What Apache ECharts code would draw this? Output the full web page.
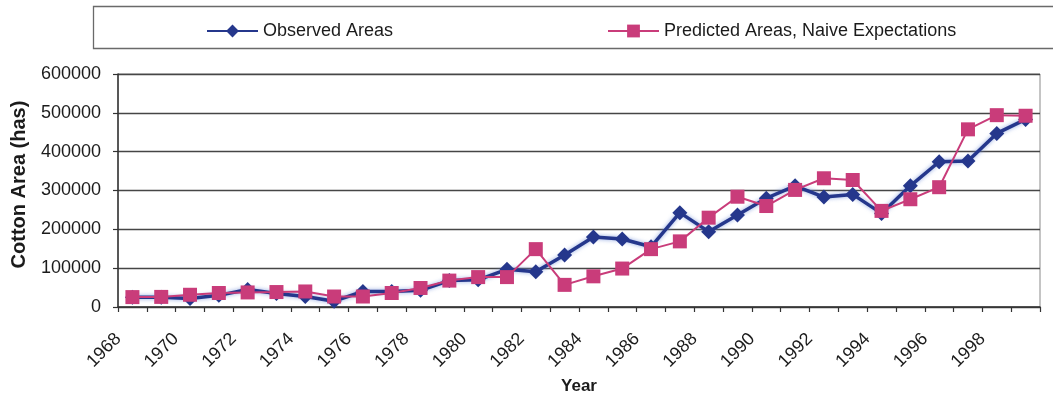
<!DOCTYPE html>
<html>
<head>
<meta charset="utf-8">
<style>
  html, body { margin: 0; padding: 0; background: #ffffff; }
  #chart { width: 1053px; height: 396px; }
</style>
<script src="https://cdn.jsdelivr.net/npm/echarts@6/dist/echarts.min.js"></script>
</head>
<body>
<div id="chart"></div>
<script>
// Crop years on the horizontal axis
const years = ['1968','1969','1970','1971','1972','1973','1974','1975','1976','1977',
  '1978','1979','1980','1981','1982','1983','1984','1985','1986','1987',
  '1988','1989','1990','1991','1992','1993','1994','1995','1996','1997',
  '1998','1999'];

// Observed cotton area (hectares)
const observedAreas = [25000, 25000, 22000, 30000, 45000, 35000, 27000, 15000, 40000, 40000,
  43000, 68000, 70000, 97000, 91000, 134000, 180000, 175000, 155000, 243000,
  194000, 237000, 280000, 312000, 283000, 290000, 241000, 312000, 374000, 376000,
  447000, 483000];

// Predicted cotton area under naive expectations (hectares)
const predictedAreas = [25500, 26000, 31500, 36000, 37500, 38500, 40000, 27000, 27000, 36000,
  49000, 68000, 77000, 77000, 149000, 57000, 79000, 99000, 149000, 169000,
  230000, 284000, 260000, 301500, 331500, 327000, 247500, 277500, 308500, 457500,
  494000, 492500];

const yTicks = { min: 0, max: 600000, step: 100000 };

const FONT = 'Liberation Sans, Arial, sans-serif';
const INK = '#1b1b1b';
const NAVY = '#25378c';
const PINK = '#c93c7a';

const chart = echarts.init(document.getElementById('chart'), null, { renderer: 'canvas' });

chart.setOption({
  backgroundColor: '#ffffff',
  animation: false,
  textStyle: { fontFamily: FONT, color: INK },
  graphic: [{
    type: 'rect',
    shape: { x: 93.5, y: 6.5, width: 980, height: 42 },
    style: { fill: 'none', stroke: '#6a6a6a', lineWidth: 1.3 },
    z: 0
  }],
  legend: [
    {
      data: ['Observed Areas'],
      left: 201, top: 17,
      itemWidth: 51, itemHeight: 16, itemGap: 0,
      textStyle: { fontFamily: FONT, fontSize: 18, color: INK }
    },
    {
      data: ['Predicted Areas, Naive Expectations'],
      left: 602, top: 17,
      itemWidth: 51, itemHeight: 16, itemGap: 0,
      textStyle: { fontFamily: FONT, fontSize: 18, color: INK }
    }
  ],
  grid: {
    left: 118, right: 13, top: 74, bottom: 89,
    outerBoundsMode: 'none',
    containLabel: false,
    show: true, borderColor: '#8a8a8a', borderWidth: 1, backgroundColor: 'transparent'
  },
  xAxis: {
    type: 'category',
    data: years,
    boundaryGap: true,
    name: 'Year',
    nameLocation: 'middle',
    nameGap: 64,
    nameTextStyle: { fontFamily: FONT, fontSize: 17, fontWeight: 'bold', color: INK },
    axisLine: { show: true, lineStyle: { color: '#333333', width: 1.5 } },
    axisTick: { show: true, interval: 0, length: 5, lineStyle: { color: '#333333', width: 1.2 } },
    axisLabel: {
      interval: 1, rotate: 45, margin: 15,
      // year labels end at the tick on the left edge of their category
      padding: [0, 20, 0, 0],
      fontFamily: FONT, fontSize: 18, color: INK
    },
    splitLine: { show: false }
  },
  yAxis: {
    type: 'value',
    min: yTicks.min, max: yTicks.max, interval: yTicks.step,
    name: 'Cotton Area (has)',
    nameLocation: 'middle',
    nameGap: 89,
    nameTextStyle: { fontFamily: FONT, fontSize: 20, fontWeight: 'bold', color: INK, padding: [0, 0, 0, 12] },
    axisLine: { show: true, lineStyle: { color: '#333333', width: 1.5 } },
    axisTick: { show: true, length: 5, lineStyle: { color: '#333333', width: 1.2 } },
    axisLabel: {
      margin: 17, fontFamily: FONT, fontSize: 18, color: INK,
      formatter: function (v) { return String(v); }
    },
    splitLine: { show: true, lineStyle: { color: '#464646', width: 1.3 } }
  },
  series: [
    {
      name: 'Observed Areas',
      type: 'line',
      data: observedAreas,
      symbol: 'diamond',
      symbolSize: 15,
      itemStyle: { color: NAVY },
      lineStyle: { color: NAVY, width: 3.5, shadowColor: 'rgba(110,140,215,0.75)', shadowBlur: 4 },
      z: 2
    },
    {
      name: 'Predicted Areas, Naive Expectations',
      type: 'line',
      data: predictedAreas,
      symbol: 'rect',
      symbolSize: 14,
      itemStyle: { color: PINK },
      lineStyle: { color: PINK, width: 2 },
      z: 3
    }
  ]
});
</script>
</body>
</html>
